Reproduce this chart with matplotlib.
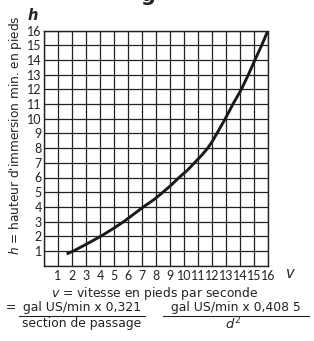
import matplotlib
matplotlib.use("Agg")
import matplotlib.pyplot as plt

plt.rcParams['font.family'] = ['DejaVu Sans']

# Data
v_vals = [1.62, 2.1, 3.0, 4.05, 4.9, 5.7, 6.4, 7.1, 7.86, 8.5, 9.1, 9.65, 10.25, 10.75,
          11.25, 11.7, 12.05, 12.35, 12.95, 13.5, 14.1, 14.6, 15.07, 15.55, 16.0]
h_vals = [0.8, 1.0, 1.45, 2.0, 2.5, 3.0, 3.5, 4.0, 4.5, 5.0, 5.5, 6.0, 6.5, 7.0,
          7.5, 8.0, 8.5, 9.0, 10.0, 11.0, 12.0, 13.0, 14.0, 15.0, 16.0]
tick_vals = list(range(1, 17))
tick_labels = [str(t) for t in tick_vals]

W, H = 314, 341
fig = plt.figure(figsize=(W / 100, H / 100), dpi=100)
ax = fig.add_axes([44 / W, 1 - 265.7 / H, 224 / W, 235.2 / H])

ax.plot(v_vals, h_vals, color='#1a1a1a', lw=2.1, solid_capstyle='butt',
        solid_joinstyle='round', zorder=3)

ax.set_xlim(0, 16)
ax.set_ylim(0, 16)
ax.set_xticks(range(0, 17))
ax.set_yticks(range(0, 17))
ax.set_xticklabels([''] + tick_labels)
ax.set_yticklabels([''] + tick_labels)
ax.grid(True, color='#222222', lw=0.9)
ax.set_axisbelow(True)
ax.tick_params(length=0, colors='#222222')
for lab in ax.get_xticklabels() + ax.get_yticklabels():
    lab.set_family(['Lato', 'DejaVu Sans'])
    lab.set_fontsize(9.0)
ax.tick_params(axis='x', pad=3)
ax.tick_params(axis='y', pad=1.5)
for s in ax.spines.values():
    s.set_color('#222222')
    s.set_linewidth(1.0)

tc = '#222222'
# axis letters
fig.text(33 / W, 1 - 16 / H, 'h', fontsize=10.5, fontweight='bold', fontstyle='italic',
         ha='center', va='center', color=tc)
fig.text(290 / W, 1 - 273 / H, 'v', fontsize=10.5, fontstyle='italic',
         ha='center', va='center', color=tc)

# rotated y label
fig.text(16 / W, 1 - 135 / H, r"$h$ = hauteur d'immersion min. en pieds",
         rotation=90, fontsize=8.7, ha='center', va='center', color=tc)

# partial title descender
fig.text(148 / W, 1 - 1 / H, 'g', fontsize=15, fontweight='bold',
         ha='center', va='baseline', color=tc)

fs = 8.9
# bottom texts
fig.text(155 / W, 1 - 293 / H, r"$v$ = vitesse en pieds par seconde", fontsize=fs,
         ha='center', va='center', color=tc)
fig.text(11 / W, 1 - 308 / H, '=', fontsize=fs, ha='center', va='center', color=tc)
fig.text(82 / W, 1 - 307 / H, 'gal US/min x 0,321', fontsize=fs,
         ha='center', va='center', color=tc)
fig.text(82 / W, 1 - 324 / H, 'section de passage', fontsize=fs,
         ha='center', va='center', color=tc)
fig.text(236 / W, 1 - 307 / H, 'gal US/min x 0,408 5', fontsize=fs,
         ha='center', va='center', color=tc)
fig.text(233 / W, 1 - 324 / H, r'$d^2$', fontsize=fs + 0.5,
         ha='center', va='center', color=tc)
fig.add_artist(plt.Line2D([19 / W, 145 / W], [1 - 315.5 / H, 1 - 315.5 / H],
                          color=tc, lw=0.8))
fig.add_artist(plt.Line2D([163 / W, 309 / W], [1 - 315.5 / H, 1 - 315.5 / H],
                          color=tc, lw=0.8))

fig.savefig('out.png', dpi=100)
